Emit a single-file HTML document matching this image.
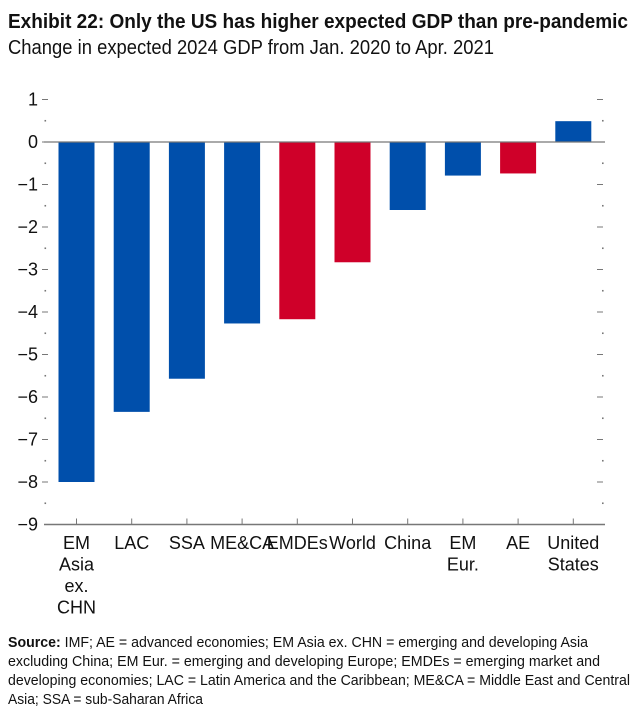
<!DOCTYPE html>
<html><head><meta charset="utf-8"><style>
html,body{margin:0;padding:0;background:#fff;width:640px;height:715px;overflow:hidden}
svg{display:block}
text{font-family:"Liberation Sans Narrow","Liberation Sans",sans-serif;fill:#111}
</style></head><body>
<svg id="chart" width="640" height="715" xmlns="http://www.w3.org/2000/svg">
<text x="8" y="28" font-size="20" font-weight="bold" textLength="620" lengthAdjust="spacingAndGlyphs">Exhibit 22: Only the US has higher expected GDP than pre-pandemic</text>
<text x="8" y="54" font-size="20" textLength="486" lengthAdjust="spacingAndGlyphs">Change in expected 2024 GDP from Jan. 2020 to Apr. 2021</text>
<g id="plot"></g>
<g font-size="15">
<text x="8" y="647" textLength="580" lengthAdjust="spacingAndGlyphs"><tspan font-weight="bold">Source:</tspan>  IMF; AE = advanced economies; EM Asia ex. CHN = emerging and developing Asia</text>
<text x="8" y="666" textLength="592" lengthAdjust="spacingAndGlyphs">excluding China; EM Eur. = emerging and developing Europe; EMDEs = emerging market and</text>
<text x="8" y="685" textLength="622" lengthAdjust="spacingAndGlyphs">developing economies; LAC = Latin America and the Caribbean; ME&amp;CA = Middle East and Central</text>
<text x="8" y="704" textLength="195" lengthAdjust="spacingAndGlyphs">Asia; SSA = sub-Saharan Africa</text>
</g>
</svg>
<script>
const categories = [["EM","Asia","ex.","CHN"],["LAC"],["SSA"],["ME&CA"],["EMDEs"],["World"],["China"],["EM","Eur."],["AE"],["United","States"]];
const values = [-8.0,-6.35,-5.57,-4.27,-4.17,-2.83,-1.6,-0.79,-0.74,0.49];
const highlight = [false,false,false,false,true,true,false,false,true,false];
const yTicks = [1,0,-1,-2,-3,-4,-5,-6,-7,-8,-9];
const yTickLabels = ["1","0","\u22121","\u22122","\u22123","\u22124","\u22125","\u22126","\u22127","\u22128","\u22129"];

const NS="http://www.w3.org/2000/svg";
const plot=document.getElementById('plot');
const x0=44,x1=605,yTop=99.5,yBot=524.5,vMax=1,vMin=-9;
const y=v=>yTop+(vMax-v)/(vMax-vMin)*(yBot-yTop);
const step=55.2, c0=76.5, bw=36;
const xc=i=>c0+i*step;
function mk(tag,attrs){const e=document.createElementNS(NS,tag);for(const k in attrs)e.setAttribute(k,attrs[k]);plot.appendChild(e);return e;}

values.forEach((v,i)=>{
  const r=mk('rect',{x:xc(i)-bw/2,y:Math.min(y(v),y(0)),width:bw,height:Math.abs(y(v)-y(0)),fill:highlight[i]?'#cf0029':'#004fab'});
  
  
});
const zl=mk('line',{x1:x0,x2:x1,y1:y(0),y2:y(0),stroke:'#777','stroke-width':1.2});


const bl=mk('line',{x1:x0,x2:x1,y1:yBot,y2:yBot,stroke:'#777','stroke-width':1.5});



yTicks.forEach((t,i)=>{
  const yy=y(t);
  const tx=mk('text',{x:38,y:yy+6,'font-size':18,'text-anchor':'end'});
  tx.textContent=yTickLabels[i];
  
  
  if(t>vMin){
    const l=mk('line',{x1:42,x2:48,y1:yy,y2:yy,stroke:'#777','stroke-width':1});
    
    
    const r=mk('line',{x1:597,x2:603,y1:yy,y2:yy,stroke:'#777','stroke-width':1});
    
    
  }
  if(t>vMin){
    const h=y(t-0.5);
    const d1=mk('rect',{x:44.5,y:h-0.8,width:1.6,height:1.6,fill:'#777'});
    
    
    const d2=mk('rect',{x:602,y:h-0.8,width:1.6,height:1.6,fill:'#777'});
    
    
  }
});

categories.forEach((lines,i)=>{
  const t=mk('line',{x1:xc(i),x2:xc(i),y1:yBot-6,y2:yBot,stroke:'#777','stroke-width':1});
  
  
  lines.forEach((s,j)=>{
    const tx=mk('text',{x:xc(i),y:549+j*21.5,'font-size':18,'text-anchor':'middle'});
    tx.textContent=s;
    
    
  });
});
</script>
</body></html>
